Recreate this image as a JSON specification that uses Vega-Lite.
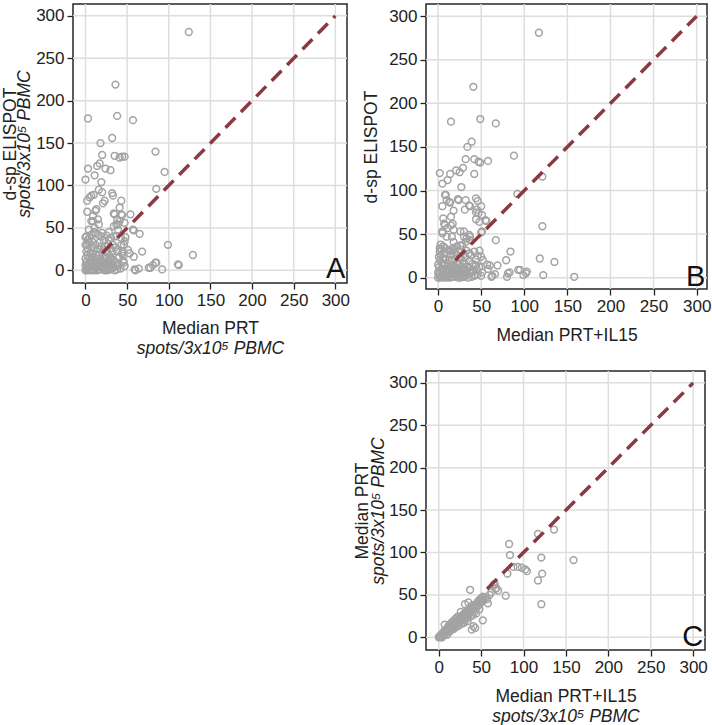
{
"$schema": "https://vega.github.io/schema/vega-lite/v6.json",
"padding": {"left": 0, "top": 2, "right": 0, "bottom": 0},
"background": "white",
"config": {
  "font": "Liberation Sans",
  "view": {"stroke": "#262626", "strokeWidth": 1.5},
  "axis": {"domain": false, "grid": false, "tickColor": "#222", "tickSize": 6, "tickWidth": 1.3, "labelFontSize": 17, "labelColor": "#222", "labelPadding": 3, "labelFlush": false, "titleFontSize": 17.5, "titleFontWeight": "normal", "titleColor": "#222"}
},
"datasets": {
  "grid": [{"v": 0}, {"v": 50}, {"v": 100}, {"v": 150}, {"v": 200}, {"v": 250}, {"v": 300}],
  "diagAB": [{"x": 20, "y": 20}, {"x": 300, "y": 300}],
  "diagC": [{"x": 57, "y": 57}, {"x": 300, "y": 300}],
  "A": [
{"prt":124,"elispot":281},{"prt":36,"elispot":219},{"prt":3,"elispot":179},{"prt":38,"elispot":182},{"prt":57,"elispot":177},{"prt":32,"elispot":156},{"prt":18,"elispot":150},{"prt":20,"elispot":136},{"prt":35,"elispot":135},{"prt":41,"elispot":133},{"prt":44,"elispot":134},{"prt":47,"elispot":134},{"prt":84,"elispot":140},{"prt":95,"elispot":116},{"prt":85,"elispot":96},{"prt":3,"elispot":120},{"prt":0,"elispot":107},{"prt":11,"elispot":112},{"prt":14,"elispot":123},{"prt":17,"elispot":126},{"prt":24,"elispot":120},{"prt":30,"elispot":118},{"prt":19,"elispot":104},{"prt":2,"elispot":82},{"prt":7,"elispot":88},{"prt":10,"elispot":89},{"prt":16,"elispot":95},{"prt":20,"elispot":92},{"prt":21,"elispot":79},{"prt":23,"elispot":82},{"prt":32,"elispot":91},{"prt":33,"elispot":88},{"prt":43,"elispot":82},{"prt":41,"elispot":74},{"prt":2,"elispot":69},{"prt":12,"elispot":70},{"prt":34,"elispot":67},{"prt":54,"elispot":66},{"prt":9,"elispot":58},{"prt":15,"elispot":60},{"prt":38,"elispot":60},{"prt":16,"elispot":54},{"prt":34,"elispot":52},{"prt":39,"elispot":54},{"prt":44,"elispot":65},{"prt":58,"elispot":47},{"prt":65,"elispot":43},{"prt":4,"elispot":48},{"prt":12,"elispot":44},{"prt":0,"elispot":39},{"prt":25,"elispot":41},{"prt":31,"elispot":38},{"prt":48,"elispot":39},{"prt":99,"elispot":30},{"prt":68,"elispot":22},{"prt":129,"elispot":18},{"prt":112,"elispot":6},{"prt":84,"elispot":9},{"prt":81,"elispot":6},{"prt":78,"elispot":3},{"prt":76,"elispot":3},{"prt":92,"elispot":1},{"prt":60,"elispot":0},{"prt":64,"elispot":2},{"prt":46,"elispot":30},{"prt":51,"elispot":24},{"prt":53,"elispot":20},{"prt":46,"elispot":9},{"prt":47,"elispot":5},{"prt":45,"elispot":17},{"prt":58,"elispot":16},{"prt":38,"elispot":1},{"prt":36,"elispot":9},{"prt":5,"elispot":86},{"prt":13,"elispot":72},{"prt":9,"elispot":64},{"prt":7,"elispot":58},{"prt":35,"elispot":66},{"prt":43,"elispot":66},{"prt":37,"elispot":54},{"prt":41,"elispot":58},{"prt":47,"elispot":56},{"prt":57,"elispot":48},{"prt":11,"elispot":50},{"prt":1,"elispot":40},{"prt":7,"elispot":42},{"prt":19,"elispot":40},{"prt":39,"elispot":48},{"prt":37,"elispot":40},{"prt":43,"elispot":38},{"prt":47,"elispot":34},{"prt":45,"elispot":22},{"prt":39,"elispot":24},{"prt":59,"elispot":1},{"prt":85,"elispot":9},{"prt":111,"elispot":7},
{"prt":0,"elispot":0},{"prt":1,"elispot":2},{"prt":2,"elispot":5},{"prt":3,"elispot":1},{"prt":4,"elispot":8},{"prt":5,"elispot":3},{"prt":6,"elispot":0},{"prt":7,"elispot":12},{"prt":8,"elispot":4},{"prt":9,"elispot":1},{"prt":10,"elispot":6},{"prt":11,"elispot":15},{"prt":12,"elispot":2},{"prt":13,"elispot":9},{"prt":14,"elispot":0},{"prt":15,"elispot":4},{"prt":16,"elispot":18},{"prt":17,"elispot":7},{"prt":18,"elispot":1},{"prt":19,"elispot":11},{"prt":20,"elispot":3},{"prt":21,"elispot":24},{"prt":22,"elispot":6},{"prt":23,"elispot":0},{"prt":24,"elispot":14},{"prt":25,"elispot":2},{"prt":26,"elispot":9},{"prt":27,"elispot":31},{"prt":28,"elispot":4},{"prt":29,"elispot":17},{"prt":30,"elispot":1},{"prt":31,"elispot":7},{"prt":32,"elispot":22},{"prt":33,"elispot":3},{"prt":34,"elispot":12},{"prt":35,"elispot":0},{"prt":36,"elispot":27},{"prt":38,"elispot":5},{"prt":40,"elispot":15},{"prt":42,"elispot":2},{"prt":44,"elispot":20},{"prt":1,"elispot":10},{"prt":2,"elispot":18},{"prt":3,"elispot":25},{"prt":4,"elispot":33},{"prt":0,"elispot":14},{"prt":1,"elispot":22},{"prt":2,"elispot":30},{"prt":3,"elispot":36},{"prt":5,"elispot":15},{"prt":6,"elispot":21},{"prt":7,"elispot":28},{"prt":8,"elispot":34},{"prt":9,"elispot":20},{"prt":10,"elispot":26},{"prt":11,"elispot":3},{"prt":12,"elispot":30},{"prt":13,"elispot":19},{"prt":14,"elispot":11},{"prt":15,"elispot":25},{"prt":16,"elispot":8},{"prt":17,"elispot":33},{"prt":18,"elispot":14},{"prt":19,"elispot":28},{"prt":20,"elispot":20},{"prt":21,"elispot":10},{"prt":22,"elispot":35},{"prt":23,"elispot":16},{"prt":24,"elispot":28},{"prt":25,"elispot":6},{"prt":26,"elispot":22},{"prt":27,"elispot":12},{"prt":28,"elispot":36},{"prt":29,"elispot":1},{"prt":30,"elispot":26},{"prt":31,"elispot":14},{"prt":32,"elispot":8},{"prt":33,"elispot":30},{"prt":34,"elispot":4},{"prt":0,"elispot":6},{"prt":2,"elispot":0},{"prt":4,"elispot":2},{"prt":6,"elispot":10},{"prt":8,"elispot":16},{"prt":10,"elispot":0},{"prt":12,"elispot":8},{"prt":14,"elispot":4},{"prt":16,"elispot":1},{"prt":18,"elispot":6},{"prt":20,"elispot":10},{"prt":22,"elispot":2},{"prt":24,"elispot":5},{"prt":26,"elispot":0},{"prt":28,"elispot":8},{"prt":30,"elispot":12},{"prt":32,"elispot":2},{"prt":0,"elispot":30},{"prt":5,"elispot":38},{"prt":10,"elispot":45},{"prt":15,"elispot":42},{"prt":20,"elispot":44},{"prt":28,"elispot":45},{"prt":34,"elispot":40},{"prt":38,"elispot":22},{"prt":40,"elispot":8},{"prt":43,"elispot":30},{"prt":45,"elispot":11}
  ],
  "B": [
{"il15":117,"elispot":281},{"il15":41,"elispot":219},{"il15":15,"elispot":179},{"il15":49,"elispot":182},{"il15":67,"elispot":177},{"il15":39,"elispot":156},{"il15":34,"elispot":150},{"il15":32,"elispot":136},{"il15":42,"elispot":136},{"il15":47,"elispot":133},{"il15":49,"elispot":132},{"il15":58,"elispot":134},{"il15":88,"elispot":140},{"il15":121,"elispot":116},{"il15":92,"elispot":96},{"il15":2,"elispot":120},{"il15":5,"elispot":108},{"il15":11,"elispot":112},{"il15":14,"elispot":119},{"il15":21,"elispot":123},{"il15":25,"elispot":121},{"il15":29,"elispot":126},{"il15":42,"elispot":119},{"il15":27,"elispot":104},{"il15":5,"elispot":82},{"il15":8,"elispot":95},{"il15":10,"elispot":89},{"il15":14,"elispot":86},{"il15":23,"elispot":90},{"il15":32,"elispot":89},{"il15":37,"elispot":82},{"il15":31,"elispot":78},{"il15":18,"elispot":77},{"il15":44,"elispot":91},{"il15":46,"elispot":88},{"il15":50,"elispot":82},{"il15":44,"elispot":75},{"il15":6,"elispot":68},{"il15":15,"elispot":70},{"il15":44,"elispot":67},{"il15":48,"elispot":64},{"il15":56,"elispot":65},{"il15":8,"elispot":60},{"il15":17,"elispot":62},{"il15":18,"elispot":55},{"il15":121,"elispot":59},{"il15":30,"elispot":53},{"il15":37,"elispot":47},{"il15":33,"elispot":45},{"il15":50,"elispot":52},{"il15":67,"elispot":43},{"il15":5,"elispot":51},{"il15":10,"elispot":47},{"il15":2,"elispot":34},{"il15":6,"elispot":36},{"il15":14,"elispot":31},{"il15":18,"elispot":32},{"il15":84,"elispot":30},{"il15":79,"elispot":20},{"il15":69,"elispot":14},{"il15":118,"elispot":22},{"il15":135,"elispot":18},{"il15":122,"elispot":3},{"il15":158,"elispot":1},{"il15":95,"elispot":9},{"il15":103,"elispot":7},{"il15":83,"elispot":6},{"il15":80,"elispot":1},{"il15":63,"elispot":2},{"il15":66,"elispot":4},{"il15":48,"elispot":31},{"il15":50,"elispot":24},{"il15":52,"elispot":20},{"il15":60,"elispot":14},{"il15":57,"elispot":15},{"il15":51,"elispot":6},{"il15":43,"elispot":13},{"il15":9,"elispot":95},{"il15":13,"elispot":87},{"il15":24,"elispot":89},{"il15":36,"elispot":83},{"il15":45,"elispot":78},{"il15":47,"elispot":74},{"il15":51,"elispot":72},{"il15":55,"elispot":66},{"il15":7,"elispot":62},{"il15":15,"elispot":60},{"il15":11,"elispot":57},{"il15":5,"elispot":53},{"il15":16,"elispot":47},{"il15":26,"elispot":53},{"il15":30,"elispot":47},{"il15":36,"elispot":49},{"il15":37,"elispot":43},{"il15":32,"elispot":41},{"il15":18,"elispot":41},{"il15":26,"elispot":37},{"il15":51,"elispot":53},{"il15":58,"elispot":10},{"il15":62,"elispot":1},{"il15":93,"elispot":9},{"il15":99,"elispot":3},{"il15":102,"elispot":5},{"il15":81,"elispot":5},
{"il15":0,"elispot":0},{"il15":1,"elispot":3},{"il15":2,"elispot":6},{"il15":3,"elispot":1},{"il15":4,"elispot":10},{"il15":5,"elispot":2},{"il15":6,"elispot":0},{"il15":7,"elispot":14},{"il15":8,"elispot":4},{"il15":9,"elispot":1},{"il15":10,"elispot":7},{"il15":11,"elispot":17},{"il15":12,"elispot":2},{"il15":13,"elispot":10},{"il15":14,"elispot":0},{"il15":15,"elispot":5},{"il15":16,"elispot":20},{"il15":17,"elispot":8},{"il15":18,"elispot":1},{"il15":19,"elispot":12},{"il15":20,"elispot":3},{"il15":21,"elispot":26},{"il15":22,"elispot":6},{"il15":23,"elispot":0},{"il15":24,"elispot":15},{"il15":25,"elispot":2},{"il15":26,"elispot":10},{"il15":27,"elispot":32},{"il15":28,"elispot":4},{"il15":29,"elispot":18},{"il15":30,"elispot":1},{"il15":31,"elispot":8},{"il15":32,"elispot":23},{"il15":33,"elispot":3},{"il15":34,"elispot":13},{"il15":35,"elispot":0},{"il15":36,"elispot":28},{"il15":38,"elispot":6},{"il15":40,"elispot":16},{"il15":42,"elispot":2},{"il15":44,"elispot":21},{"il15":46,"elispot":4},{"il15":48,"elispot":12},{"il15":50,"elispot":2},{"il15":1,"elispot":12},{"il15":2,"elispot":20},{"il15":3,"elispot":26},{"il15":4,"elispot":33},{"il15":0,"elispot":15},{"il15":1,"elispot":24},{"il15":2,"elispot":30},{"il15":3,"elispot":38},{"il15":5,"elispot":16},{"il15":6,"elispot":22},{"il15":7,"elispot":29},{"il15":8,"elispot":34},{"il15":9,"elispot":21},{"il15":10,"elispot":27},{"il15":11,"elispot":3},{"il15":12,"elispot":31},{"il15":13,"elispot":20},{"il15":14,"elispot":12},{"il15":15,"elispot":26},{"il15":16,"elispot":9},{"il15":17,"elispot":34},{"il15":18,"elispot":15},{"il15":19,"elispot":29},{"il15":20,"elispot":21},{"il15":21,"elispot":11},{"il15":22,"elispot":36},{"il15":23,"elispot":17},{"il15":24,"elispot":29},{"il15":25,"elispot":7},{"il15":26,"elispot":23},{"il15":27,"elispot":13},{"il15":28,"elispot":37},{"il15":29,"elispot":1},{"il15":30,"elispot":27},{"il15":31,"elispot":15},{"il15":32,"elispot":9},{"il15":33,"elispot":31},{"il15":34,"elispot":5},{"il15":36,"elispot":19},{"il15":38,"elispot":26},{"il15":40,"elispot":9},{"il15":42,"elispot":30},{"il15":44,"elispot":14},{"il15":46,"elispot":25},{"il15":0,"elispot":6},{"il15":2,"elispot":0},{"il15":4,"elispot":2},{"il15":6,"elispot":10},{"il15":8,"elispot":16},{"il15":10,"elispot":0},{"il15":12,"elispot":8},{"il15":14,"elispot":4},{"il15":16,"elispot":1},{"il15":18,"elispot":6},{"il15":20,"elispot":10},{"il15":22,"elispot":2},{"il15":24,"elispot":5},{"il15":26,"elispot":0},{"il15":28,"elispot":8},{"il15":30,"elispot":12},{"il15":32,"elispot":2},{"il15":37,"elispot":5},{"il15":39,"elispot":1},{"il15":41,"elispot":7},{"il15":43,"elispot":3},{"il15":45,"elispot":9}
  ],
  "C": [
{"il15":136,"prt":127},{"il15":117,"prt":122},{"il15":83,"prt":110},{"il15":84,"prt":97},{"il15":159,"prt":91},{"il15":121,"prt":94},{"il15":122,"prt":75},{"il15":117,"prt":67},{"il15":121,"prt":39},{"il15":81,"prt":75},{"il15":88,"prt":83},{"il15":93,"prt":83},{"il15":98,"prt":82},{"il15":102,"prt":80},{"il15":104,"prt":78},{"il15":79,"prt":49},{"il15":70,"prt":55},{"il15":68,"prt":58},{"il15":65,"prt":62},{"il15":37,"prt":56},{"il15":60,"prt":50},{"il15":62,"prt":53},{"il15":52,"prt":20},{"il15":41,"prt":13},{"il15":43,"prt":11},{"il15":39,"prt":9},{"il15":31,"prt":39},{"il15":35,"prt":41},{"il15":50,"prt":45},{"il15":52,"prt":47},{"il15":67,"prt":57},{"il15":66,"prt":63},
{"il15":0,"prt":0},{"il15":1,"prt":1},{"il15":2,"prt":0},{"il15":2,"prt":2},{"il15":3,"prt":1},{"il15":3,"prt":3},{"il15":4,"prt":2},{"il15":4,"prt":4},{"il15":5,"prt":3},{"il15":5,"prt":5},{"il15":6,"prt":4},{"il15":6,"prt":6},{"il15":7,"prt":5},{"il15":7,"prt":8},{"il15":8,"prt":6},{"il15":8,"prt":4},{"il15":9,"prt":7},{"il15":9,"prt":9},{"il15":10,"prt":6},{"il15":10,"prt":10},{"il15":11,"prt":8},{"il15":11,"prt":12},{"il15":12,"prt":9},{"il15":12,"prt":14},{"il15":13,"prt":10},{"il15":13,"prt":7},{"il15":14,"prt":12},{"il15":14,"prt":16},{"il15":15,"prt":11},{"il15":15,"prt":14},{"il15":16,"prt":13},{"il15":16,"prt":18},{"il15":17,"prt":12},{"il15":17,"prt":15},{"il15":18,"prt":14},{"il15":18,"prt":20},{"il15":19,"prt":16},{"il15":19,"prt":12},{"il15":20,"prt":17},{"il15":20,"prt":22},{"il15":21,"prt":15},{"il15":21,"prt":18},{"il15":22,"prt":19},{"il15":22,"prt":24},{"il15":23,"prt":17},{"il15":23,"prt":21},{"il15":24,"prt":20},{"il15":24,"prt":14},{"il15":25,"prt":22},{"il15":25,"prt":18},{"il15":26,"prt":20},{"il15":26,"prt":25},{"il15":27,"prt":23},{"il15":27,"prt":16},{"il15":28,"prt":24},{"il15":28,"prt":20},{"il15":29,"prt":26},{"il15":29,"prt":22},{"il15":30,"prt":24},{"il15":30,"prt":28},{"il15":31,"prt":26},{"il15":31,"prt":20},{"il15":32,"prt":27},{"il15":32,"prt":30},{"il15":33,"prt":25},{"il15":33,"prt":22},{"il15":34,"prt":29},{"il15":34,"prt":32},{"il15":35,"prt":30},{"il15":35,"prt":26},{"il15":36,"prt":31},{"il15":36,"prt":28},{"il15":37,"prt":33},{"il15":37,"prt":24},{"il15":38,"prt":30},{"il15":38,"prt":35},{"il15":39,"prt":34},{"il15":40,"prt":32},{"il15":40,"prt":38},{"il15":41,"prt":35},{"il15":42,"prt":30},{"il15":42,"prt":37},{"il15":43,"prt":38},{"il15":44,"prt":34},{"il15":45,"prt":40},{"il15":45,"prt":36},{"il15":46,"prt":42},{"il15":47,"prt":38},{"il15":48,"prt":44},{"il15":49,"prt":40},{"il15":50,"prt":46},{"il15":51,"prt":42},{"il15":52,"prt":48},{"il15":53,"prt":44},{"il15":55,"prt":47},{"il15":57,"prt":45},{"il15":58,"prt":40},{"il15":7,"prt":15},{"il15":4,"prt":0},{"il15":10,"prt":3},{"il15":14,"prt":8},{"il15":18,"prt":10},{"il15":22,"prt":13},{"il15":26,"prt":30},{"il15":30,"prt":17},{"il15":34,"prt":19},{"il15":40,"prt":26},{"il15":44,"prt":28},{"il15":48,"prt":33}
  ]
},
"spacing": 1,
"hconcat": [
  {
    "width": 274, "height": 279,
    "resolve": {"axis": {"x": "independent", "y": "independent"}},
    "layer": [
      {"data": {"name": "grid"},
       "mark": {"type": "rule", "color": "#dedede", "strokeWidth": 1.5},
       "encoding": {"x": {"field": "v", "type": "quantitative", "scale": {"domain": [-15, 314], "nice": false, "zero": false}, "axis": null}}},
      {"data": {"name": "grid"},
       "mark": {"type": "rule", "color": "#dedede", "strokeWidth": 1.5},
       "encoding": {"y": {"field": "v", "type": "quantitative", "scale": {"domain": [-15, 314], "nice": false, "zero": false}, "axis": null}}},
      {"data": {"name": "A"},
       "mark": {"type": "point", "shape": "circle", "filled": false, "color": "#a3a3a3", "strokeWidth": 1.5, "size": 46, "opacity": 1},
       "encoding": {
         "x": {"field": "prt", "type": "quantitative", "scale": {"domain": [-15, 314], "nice": false, "zero": false}, "axis": {"orient": "bottom", "values": [0,50,100,150,200,250,300], "title": "Median PRT", "titlePadding": 11}},
         "y": {"field": "elispot", "type": "quantitative", "scale": {"domain": [-15, 314], "nice": false, "zero": false}, "axis": {"orient": "left", "values": [0,50,100,150,200,250,300], "title": "d-sp ELISPOT", "titlePadding": 16}}}},
      {"data": {"name": "diagAB"},
       "mark": {"type": "line", "color": "#8b3a42", "strokeWidth": 3.5, "strokeDash": [14, 8]},
       "encoding": {
         "x": {"field": "x", "type": "quantitative", "scale": {"domain": [-15, 314], "nice": false, "zero": false}, "axis": null},
         "y": {"field": "y", "type": "quantitative", "scale": {"domain": [-15, 314], "nice": false, "zero": false}, "axis": null}}},
      {"data": {"values": [{"label": "A"}]},
       "mark": {"type": "text", "align": "right", "baseline": "alphabetic", "fontSize": 29, "color": "#111"},
       "encoding": {
         "x": {"datum": 312, "type": "quantitative", "scale": {"domain": [-15, 314], "nice": false, "zero": false}, "axis": null},
         "y": {"datum": -9, "type": "quantitative", "scale": {"domain": [-15, 314], "nice": false, "zero": false}, "axis": null},
         "text": {"field": "label"}}},
      {"data": {"values": [{"x": 0, "y": 0}]},
       "mark": {"type": "point", "opacity": 0},
       "encoding": {
         "x": {"field": "x", "type": "quantitative", "scale": {"domain": [-15, 314], "nice": false, "zero": false}, "axis": {"orient": "bottom", "labels": false, "ticks": false, "domain": false, "minExtent": 0, "title": "spots/3x10⁵ PBMC", "titleFontStyle": "italic", "titlePadding": 56}},
         "y": {"field": "y", "type": "quantitative", "scale": {"domain": [-15, 314], "nice": false, "zero": false}, "axis": {"orient": "left", "labels": false, "ticks": false, "domain": false, "minExtent": 0, "title": "spots/3x10⁵ PBMC", "titleFontStyle": "italic", "titlePadding": 40}}}}
    ]
  },
  {
    "spacing": 24,
    "vconcat": [
      {
        "width": 281, "height": 285,
        "layer": [
          {"data": {"name": "grid"},
           "mark": {"type": "rule", "color": "#dedede", "strokeWidth": 1.5},
           "encoding": {"x": {"field": "v", "type": "quantitative"}}},
          {"data": {"name": "grid"},
           "mark": {"type": "rule", "color": "#dedede", "strokeWidth": 1.5},
           "encoding": {"y": {"field": "v", "type": "quantitative"}}},
          {"data": {"name": "B"},
           "mark": {"type": "point", "shape": "circle", "filled": false, "color": "#a3a3a3", "strokeWidth": 1.5, "size": 46, "opacity": 1},
           "encoding": {
             "x": {"field": "il15", "type": "quantitative", "scale": {"domain": [-14, 312], "nice": false, "zero": false}, "axis": {"values": [0,50,100,150,200,250,300], "title": "Median PRT+IL15", "titlePadding": 12}},
             "y": {"field": "elispot", "type": "quantitative", "scale": {"domain": [-13, 314], "nice": false, "zero": false}, "axis": {"values": [0,50,100,150,200,250,300], "title": "d-sp ELISPOT", "titlePadding": 8}}}},
          {"data": {"name": "diagAB"},
           "mark": {"type": "line", "color": "#8b3a42", "strokeWidth": 3.5, "strokeDash": [14, 8]},
           "encoding": {
             "x": {"field": "x", "type": "quantitative"},
             "y": {"field": "y", "type": "quantitative"}}},
          {"data": {"values": [{"label": "B"}]},
           "mark": {"type": "text", "align": "right", "baseline": "alphabetic", "fontSize": 29, "color": "#111"},
           "encoding": {
             "x": {"datum": 310, "type": "quantitative"},
             "y": {"datum": -9, "type": "quantitative"},
             "text": {"field": "label"}}}
        ]
      },
      {
        "width": 279, "height": 279,
        "resolve": {"axis": {"x": "independent", "y": "independent"}},
        "layer": [
          {"data": {"name": "grid"},
           "mark": {"type": "rule", "color": "#dedede", "strokeWidth": 1.5},
           "encoding": {"x": {"field": "v", "type": "quantitative", "scale": {"domain": [-15, 314], "nice": false, "zero": false}, "axis": null}}},
          {"data": {"name": "grid"},
           "mark": {"type": "rule", "color": "#dedede", "strokeWidth": 1.5},
           "encoding": {"y": {"field": "v", "type": "quantitative", "scale": {"domain": [-15, 314], "nice": false, "zero": false}, "axis": null}}},
          {"data": {"name": "C"},
           "mark": {"type": "point", "shape": "circle", "filled": false, "color": "#a3a3a3", "strokeWidth": 1.5, "size": 46, "opacity": 1},
           "encoding": {
             "x": {"field": "il15", "type": "quantitative", "scale": {"domain": [-15, 314], "nice": false, "zero": false}, "axis": {"orient": "bottom", "values": [0,50,100,150,200,250,300], "title": "Median PRT+IL15", "titlePadding": 12}},
             "y": {"field": "prt", "type": "quantitative", "scale": {"domain": [-15, 314], "nice": false, "zero": false}, "axis": {"orient": "left", "values": [0,50,100,150,200,250,300], "title": "Median PRT", "titlePadding": 17}}}},
          {"data": {"name": "diagC"},
           "mark": {"type": "line", "color": "#8b3a42", "strokeWidth": 3.5, "strokeDash": [14, 8]},
           "encoding": {
             "x": {"field": "x", "type": "quantitative", "scale": {"domain": [-15, 314], "nice": false, "zero": false}, "axis": null},
             "y": {"field": "y", "type": "quantitative", "scale": {"domain": [-15, 314], "nice": false, "zero": false}, "axis": null}}},
          {"data": {"values": [{"label": "C"}]},
           "mark": {"type": "text", "align": "right", "baseline": "alphabetic", "fontSize": 29, "color": "#111"},
           "encoding": {
             "x": {"datum": 312, "type": "quantitative", "scale": {"domain": [-15, 314], "nice": false, "zero": false}, "axis": null},
             "y": {"datum": -10, "type": "quantitative", "scale": {"domain": [-15, 314], "nice": false, "zero": false}, "axis": null},
             "text": {"field": "label"}}},
          {"data": {"values": [{"x": 0, "y": 0}]},
           "mark": {"type": "point", "opacity": 0},
           "encoding": {
             "x": {"field": "x", "type": "quantitative", "scale": {"domain": [-15, 314], "nice": false, "zero": false}, "axis": {"orient": "bottom", "labels": false, "ticks": false, "domain": false, "minExtent": 0, "title": "spots/3x10⁵ PBMC", "titleFontStyle": "italic", "titlePadding": 57}},
             "y": {"field": "y", "type": "quantitative", "scale": {"domain": [-15, 314], "nice": false, "zero": false}, "axis": {"orient": "left", "labels": false, "ticks": false, "domain": false, "minExtent": 0, "title": "spots/3x10⁵ PBMC", "titleFontStyle": "italic", "titlePadding": 39}}}}
        ]
      }
    ]
  }
]
}
